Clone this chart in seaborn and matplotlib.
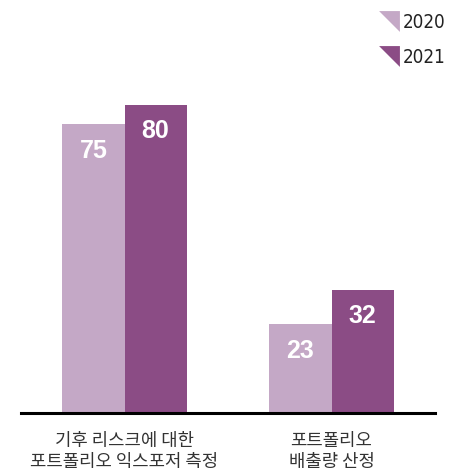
import matplotlib
matplotlib.use("Agg")
import matplotlib.pyplot as plt
from matplotlib.lines import Line2D
import seaborn as sns
import pandas as pd

categories = ["기후 리스크에 대한\n포트폴리오 익스포저 측정", "포트폴리오\n배출량 산정"]
years = ["2020", "2021"]
values_2020 = [75, 23]
values_2021 = [80, 32]
colors = ["#C4A8C6", "#8B4C85"]

df = pd.DataFrame({
    "category": categories * 2,
    "year": [years[0]] * 2 + [years[1]] * 2,
    "value": values_2020 + values_2021,
})

sns.set_style("white")
plt.rcParams["font.family"] = ["Noto Sans CJK KR", "DejaVu Sans"]

W, H = 459, 472
fig = plt.figure(figsize=(W / 100, H / 100), dpi=100)
ax = fig.add_axes([21 / W, (H - 413) / H, 414 / W, 328 / H])

sns.barplot(data=df, x="category", y="value", hue="year", palette=colors,
            width=0.6, saturation=1, ax=ax, legend=False, errorbar=None,
            linewidth=0, edgecolor="none")

ax.set_xlim(-0.5, 1.5)
ax.set_ylim(0, 328 / 3.85)
for s in ["top", "right", "left"]:
    ax.spines[s].set_visible(False)
ax.spines["bottom"].set_color("black")
ax.spines["bottom"].set_linewidth(2.2)
ax.set_yticks([])
ax.set_xlabel("")
ax.set_ylabel("")
ax.tick_params(axis="x", length=0, pad=14, labelsize=12.8, colors="#333333")
for lbl in ax.get_xticklabels():
    lbl.set_linespacing(1.15)

for cont in ax.containers:
    for bar in cont:
        h = bar.get_height()
        ax.annotate(f"{int(h)}", (bar.get_x() + bar.get_width() / 2, h),
                    xytext=(0, -19), textcoords="offset points",
                    ha="center", va="center", color="white",
                    fontsize=18, fontweight="bold",
                    family=["Liberation Sans", "DejaVu Sans"])

tri = [(-1, 1), (1, 1), (1, -1), (-1, 1)]
handles = [Line2D([], [], linestyle="none", marker=tri, markersize=15,
                  markerfacecolor=c, markeredgewidth=0) for c in colors]
leg = fig.legend(handles, years, loc="upper left", bbox_to_anchor=(372 / W, 1 - 5 / H),
                 frameon=False, handlelength=1.0, handletextpad=0.25,
                 labelspacing=0.88, borderaxespad=0,
                 prop={"family": ["Liberation Sans Narrow", "DejaVu Sans"],
                       "stretch": "condensed", "size": 13.5})
for t in leg.get_texts():
    t.set_color("#222222")

fig.savefig("out.png", dpi=100)
